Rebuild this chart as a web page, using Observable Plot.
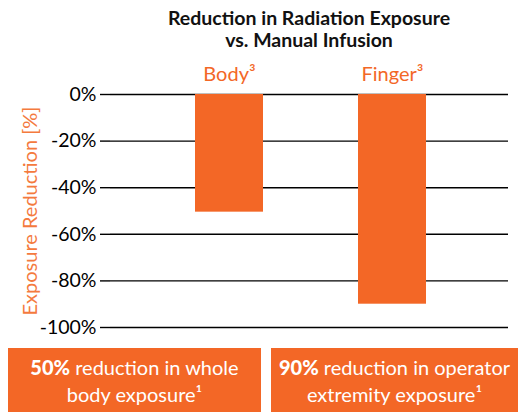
<!DOCTYPE html>
<html>
<head>
<meta charset="utf-8">
<script src="https://cdn.jsdelivr.net/npm/d3@7"></script>
<script src="https://cdn.jsdelivr.net/npm/@observablehq/plot@0.6"></script>
<style>
  html, body { margin: 0; padding: 0; background: #fff; }
  #wrap { position: relative; width: 524px; height: 412px; overflow: hidden; font-family: Lato, sans-serif; }
  #title { position: absolute; left: 110px; width: 398px; top: 7px; text-align: center; font-weight: 700; font-size: 19.5px; line-height: 22px; color: #111; }
  .box { position: absolute; top: 348px; height: 64px; background: #F36726; color: #fff; text-align: center; font-size: 20px; line-height: 27px; padding-top: 6px; box-sizing: border-box; }
  .box b { font-weight: 900; }
  #chart { position: absolute; left: 0; top: 0; }
</style>
</head>
<body>
<div id="wrap">
  <div id="chart"></div>
  <div id="title">Reduction in Radiation Exposure<br>vs. Manual Infusion</div>
  <div class="box" style="left:8px;width:253px;"><b>50%</b> reduction in whole<br>body exposure¹</div>
  <div class="box" style="left:271px;width:247px;"><b>90%</b> reduction in operator<br>extremity exposure¹</div>
</div>
<script>
const categories = ["Body", "Finger"];
const values = [-50.5, -90];
const yTicks = [0, -20, -40, -60, -80, -100];
const yLabel = "Exposure Reduction [%]";

const orange = "#F36726";
const data = categories.map((c, i) => ({cat: c, value: values[i]}));

const chart = Plot.plot({
  width: 524,
  height: 412,
  marginTop: 94,
  marginBottom: 85,
  marginLeft: 110,
  marginRight: 16,
  style: {fontFamily: "Lato, sans-serif", fontSize: "19px", color: "#000", background: "transparent"},
  x: {domain: categories, range: [112, 508], paddingInner: 0.584, paddingOuter: 0.503},
  y: {domain: [-100, 0]},
  marks: [
    Plot.ruleY(yTicks, {stroke: "#000", strokeWidth: 1.4}),
    Plot.barY(data, {x: "cat", y: "value", fill: orange}),
    Plot.axisY({ticks: yTicks, tickSize: 10, tickPadding: 4, tickFormat: d => d + "%", fontSize: 19.5, label: null, line: true, stroke: "#000", strokeWidth: 1.4}),
    Plot.axisX({anchor: "top", tickSize: 0, tickPadding: 14, tickFormat: d => d + "³", fontSize: 20, fill: orange, label: null}),
    Plot.text([yLabel], {frameAnchor: "left", textAnchor: "middle", rotate: -90, dx: -80, fill: "#F47A3E", fontSize: 20})
  ]
});
document.getElementById("chart").appendChild(chart);
</script>
</body>
</html>
